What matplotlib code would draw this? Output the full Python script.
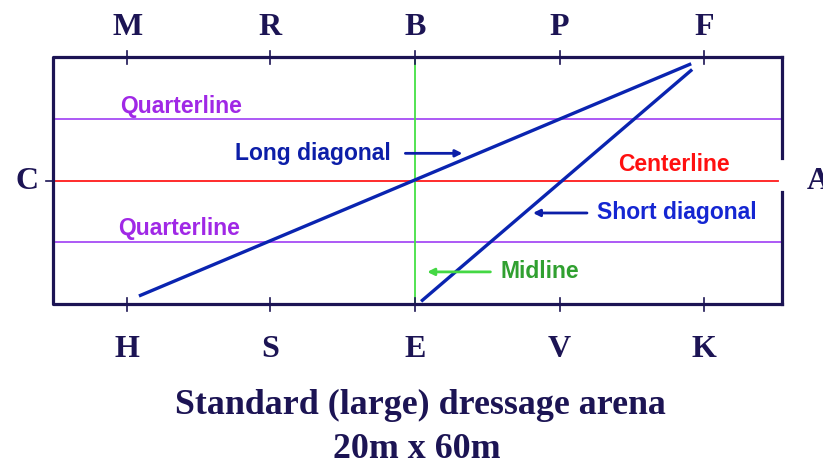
import matplotlib
matplotlib.use("Agg")
import matplotlib.pyplot as plt

# ---- data (arena in metres) ----
arena_length = 60.0
arena_width = 20.0
letter_pos = [6.1, 17.9, 29.8, 41.7, 53.6]
top_letters = ["M", "R", "B", "P", "F"]
bottom_letters = ["H", "S", "E", "V", "K"]
end_letters = ["C", "A"]
centerline_y = 10.0
quarterline_y = [5.0, 15.0]
midline_x = 29.8
gate_gap = [9.1, 11.8]          # opening in the A side
long_diag_x = [7.2, 52.4]
long_diag_y = [0.7, 19.4]
short_diag_x = [30.4, 52.5]
short_diag_y = [0.3, 18.9]
title_lines = ["Standard (large) dressage arena", "20m x 60m"]

W, H = 823, 470
fig = plt.figure(figsize=(W / 100, H / 100), dpi=100)
ax = fig.add_axes([53 / W, (H - 304) / H, 729 / W, 247 / H])
ax.set_xlim(0, arena_length)
ax.set_ylim(0, arena_width)
ax.axis("off")

frame_c = "#1c1454"
sans = ["Liberation Sans", "DejaVu Sans"]
serif = ["Liberation Serif", "DejaVu Serif"]

# guide lines
ax.plot([0, arena_length - 0.3], [centerline_y] * 2, color="#ff1a1a", lw=1.3, zorder=2)
for q in quarterline_y:
    ax.plot([0, arena_length], [q, q], color="#a64cf5", lw=1.3, zorder=2)
ax.plot([midline_x] * 2, [0, arena_width], color="#44e044", lw=1.3, zorder=2)

# frame
ax.plot([arena_length, 0, 0, arena_length], [arena_width, arena_width, 0, 0],
        color=frame_c, lw=2.3, solid_capstyle="projecting", zorder=4, clip_on=False)
ax.plot([arena_length] * 2, [arena_width, gate_gap[1]], color=frame_c, lw=2.3,
        solid_capstyle="projecting", zorder=4, clip_on=False)
ax.plot([arena_length] * 2, [gate_gap[0], 0], color=frame_c, lw=2.3,
        solid_capstyle="projecting", zorder=4, clip_on=False)

# ticks at letters
for p in letter_pos:
    ax.plot([p, p], [arena_width - 0.6, arena_width + 0.45], color=frame_c, lw=1.2,
            zorder=5, clip_on=False)
    ax.plot([p, p], [0.45, -0.6], color=frame_c, lw=1.2, zorder=5, clip_on=False)
ax.plot([-0.55, 0], [centerline_y] * 2, color=frame_c, lw=1.2, zorder=5, clip_on=False)

# diagonals
ax.plot(long_diag_x, long_diag_y, color="#0a24b0", lw=2.4, zorder=3)
ax.plot(short_diag_x, short_diag_y, color="#0a24b0", lw=2.4, zorder=3)

# letters
for p, t in zip(letter_pos, top_letters):
    ax.text(p, 22.4, t, ha="center", va="center", fontsize=23, fontweight="bold",
            family=serif, color=frame_c, clip_on=False)
for p, t in zip(letter_pos, bottom_letters):
    ax.text(p, -3.7, t, ha="center", va="center", fontsize=23, fontweight="bold",
            family=serif, color=frame_c, clip_on=False)
ax.text(-2.15, centerline_y - 0.1, end_letters[0], ha="center", va="center", fontsize=23,
        fontweight="bold", family=serif, color=frame_c, clip_on=False)
ax.text(63.0, centerline_y - 0.1, end_letters[1], ha="center", va="center", fontsize=23,
        fontweight="bold", family=serif, color=frame_c, clip_on=False)

# labels
lab = dict(fontsize=16.5, fontweight="bold", family=sans, ha="left", va="center")
ax.text(5.5, 16.0, "Quarterline", color="#a028e6", **lab)
ax.text(5.35, 6.15, "Quarterline", color="#a028e6", **lab)
ax.text(15.0, 12.15, "Long diagonal", color="#0c1ea8", **lab)
ax.text(46.5, 11.3, "Centerline", color="#ff1010", **lab)
ax.text(44.8, 7.4, "Short diagonal", color="#1426d2", **lab)
ax.text(36.8, 2.6, "Midline", color="#30a030", **lab)

# arrows
ax.annotate("", xy=(33.7, 12.2), xytext=(29.0, 12.2),
            arrowprops=dict(arrowstyle="-|>", color="#0c1ea8", lw=2.0,
                            mutation_scale=10, shrinkA=0, shrinkB=0))
ax.annotate("", xy=(39.5, 7.37), xytext=(43.95, 7.37),
            arrowprops=dict(arrowstyle="-|>", color="#0c1ea8", lw=2.0,
                            mutation_scale=10, shrinkA=0, shrinkB=0))
ax.annotate("", xy=(30.8, 2.6), xytext=(36.0, 2.6),
            arrowprops=dict(arrowstyle="-|>", color="#44d844", lw=2.0,
                            mutation_scale=10, shrinkA=0, shrinkB=0))

# title
fig.text(420 / W, 1 - 405 / H, title_lines[0], ha="center", va="center", fontsize=25.8,
         fontweight="bold", family=serif, color=frame_c)
fig.text(417 / W, 1 - 449 / H, title_lines[1], ha="center", va="center", fontsize=25.8,
         fontweight="bold", family=serif, color=frame_c)

fig.savefig("out.png", dpi=100, facecolor="white")
